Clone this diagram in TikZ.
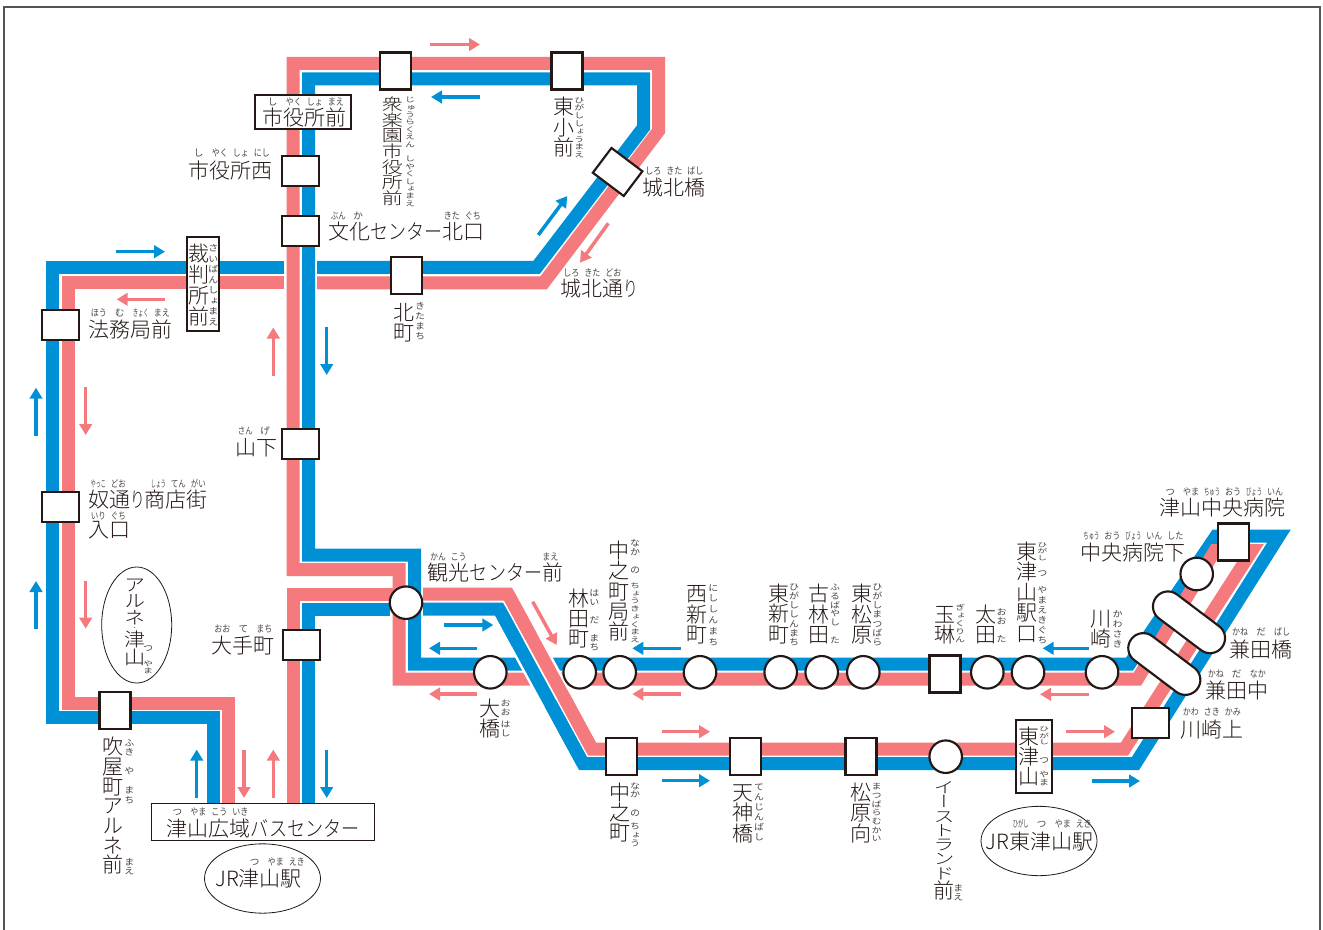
\documentclass[tikz,border=0pt]{standalone}
\usepackage{fontspec}
\usepackage{graphicx}
\usetikzlibrary{arrows.meta,shapes.geometric}
\setmainfont{Noto Sans CJK JP Light}
\newfontfamily\vfont{Noto Sans CJK JP Light}[RawFeature={+vert}]
\newfontfamily\rfont{Noto Sans CJK JP}
\newfontfamily\vrfont{Noto Sans CJK JP}[RawFeature={+vert}]
\let\vcf\vfont
\definecolor{ink}{HTML}{231815}
\definecolor{txt}{HTML}{231815}
\definecolor{rubyc}{HTML}{4A4644}
\definecolor{bl}{HTML}{0090D5}
\definecolor{pk}{HTML}{F47A7E}
\newdimen\px \px=.75pt
\newcounter{lb}
\newcommand\kn[1]{\scalebox{.86}[1]{#1}}
\newcommand\kr[1]{\scalebox{.7}[1]{#1}}
\newcommand\Sq[2]{\sbox0{#2}\scalebox{\fpeval{min(1,(#1*.75pt-3.75pt)/(\the\wd0+.001pt))}}[1]{\usebox0}}
\ExplSyntaxOn
\NewDocumentCommand\Vc{mmmm}{
  \vbox{\offinterlineskip
    \fontsize{\fpeval{#3*0.75}}{\fpeval{#3*0.75}}\vcf\selectfont
    \tl_map_inline:nn{#4}{
      \hbox to #3\px{
        \vrule height \fpeval{.5*#1+.38*#3*#2}\px depth \fpeval{.5*#1-.38*#3*#2}\px width 0pt
        \hss\smash{\scalebox{1}[#2]{##1}}\hss}
    }
  }
}
\NewDocumentCommand\Rh{mm}{
  \hbox{\fontsize{7.2}{7.2}\rfont\selectfont
    \clist_map_inline:nn{#2}{\hbox to #1\px{\hss\Sq{#1}{##1}\hss}}
  }
}
\ExplSyntaxOff
\newcommand\MH[3]{\stepcounter{lb}\node[mh] (m\thelb) at (#1,#2) {#3};}
\newcommand\RH[4]{\stepcounter{lb}\node[rh] (r\thelb) at (#1,#2) {\Rh{#3}{#4}};}
\newcommand\MV[4]{\stepcounter{lb}\node[vt] (m\thelb) at (#1,#2) {\Vc{#3}{1}{21}{#4}};}
\newcommand\RV[5]{\stepcounter{lb}\node[rv] (r\thelb) at (#1,#2) {\let\vcf\vrfont\Vc{#3}{#4}{10}{#5}};}
\tikzset{
  band/.style={line width=9.75pt,line join=miter,miter limit=20},
  bluel/.style={band,draw=bl},
  pinkl/.style={band,draw=pk},
  casing/.style={line width=24.75pt,draw=white},
  arr/.style={line width=2.6pt,-{Triangle[length=8.25pt,width=9.4pt]}},
  ab/.style={arr,draw=bl},
  ap/.style={arr,draw=pk},
  stn/.style={draw=ink,line width=1.6pt,fill=white,inner sep=0pt},
  boxv/.style={stn,rectangle,minimum width=23.25pt,minimum height=27.75pt},
  boxh/.style={stn,rectangle,minimum width=27.75pt,minimum height=22.5pt},
  stc/.style={stn,circle,minimum size=24.4pt},
  caps/.style={stn,rectangle,minimum width=62pt,minimum height=22.5pt,rounded corners=11.2pt,rotate=-37},
  oval/.style={draw=ink,line width=.6pt,fill=white,ellipse,inner sep=0pt},
  mh/.style={anchor=base west,inner sep=0pt,text=txt,font=\fontsize{15.75}{15.75}\selectfont},
  rh/.style={anchor=base west,inner sep=0pt,text=rubyc},
  vt/.style={anchor=north,inner sep=0pt,text=txt},
  rv/.style={anchor=north,inner sep=0pt,text=rubyc},
}
\begin{document}
\begin{tikzpicture}[x=.75pt,y=-.75pt]
\useasboundingbox (0,0) rectangle (1323,930);
\draw[draw=ink!75,line width=.8pt] (4,930) -- (4,7) -- (1320,7) -- (1320,930);

% routes
\draw[bluel] (284,267.5) -- (52.5,267.5) -- (52.5,717.5) -- (213.5,717.5) -- (213.5,804);
\draw[pinkl] (284,283) -- (68,283) -- (68,703) -- (228.5,703) -- (228.5,804);
\draw[bluel] (317,267.5) -- (536.5,267.5) -- (643.5,127.5) -- (643.5,79) -- (308.5,79) -- (308.5,555) -- (414.5,555) -- (414.5,664) -- (1129.5,664) -- (1216,536) -- (1279,536) -- (1135.5,763.5) -- (583,763.5) -- (499,609) -- (423,609);
\draw[bluel] (390,609) -- (308.5,609) -- (308.5,804);
\draw[pinkl] (317,283) -- (543.5,283) -- (658.5,131) -- (658.5,63.5) -- (293,63.5) -- (293,569.5) -- (399,569.5) -- (399,679) -- (1137.5,679) -- (1215,550.5) -- (1252,550.5) -- (1124.5,749) -- (592,749) -- (508,594) -- (423,594);
\draw[pinkl] (399,587.5) -- (399,594) -- (293,594) -- (293,804);
\draw[casing] (524.4,640) -- (557,700);
\draw[bluel] (499,609) -- (583,763.5);
\draw[pinkl] (508,594) -- (592,749);

% arrows
\draw[ap] (430,44.5) -- (480,44.5);
\draw[ab] (479.5,97) -- (431,97);
\draw[ab] (538.3,235) -- (567.3,196);
\draw[ap] (608.3,223.3) -- (580,262.7);
\draw[ab] (116,251.7) -- (165,251.7);
\draw[ap] (165,299.3) -- (116.7,299.3);
\draw[ap] (273.3,376) -- (273.3,327.5);
\draw[ab] (326.7,327) -- (326.7,375);
\draw[ab] (36,435.8) -- (36,387.7);
\draw[ap] (85.7,387) -- (85.7,435);
\draw[ab] (36,628.6) -- (36,581);
\draw[ap] (85.7,581) -- (85.7,628.6);
\draw[ab] (196.7,798.4) -- (196.7,749.6);
\draw[ap] (244,749.6) -- (244,798);
\draw[ap] (273.3,798) -- (273.3,749.6);
\draw[ab] (326.7,749.6) -- (326.7,798);
\draw[ab] (444.3,625) -- (493.3,625);
\draw[ab] (477.3,648.3) -- (429,648.3);
\draw[ap] (477.3,694) -- (429,694);
\draw[ap] (532.7,601.7) -- (556.7,645);
\draw[ab] (681,648.3) -- (632.3,648.3);
\draw[ap] (681,694) -- (632.3,694);
\draw[ap] (661.7,731.7) -- (710,731.7);
\draw[ab] (661.7,780.7) -- (710,780.7);
\draw[ab] (1089,648.3) -- (1042.7,648.3);
\draw[ap] (1089,694.3) -- (1040,694.3);
\draw[ap] (1066,731.7) -- (1115,731.7);
\draw[ab] (1091.7,781) -- (1140,781);

% stations
\node[boxv] (shuraku) at (395.3,71) {};
\node[boxv] (higashisho) at (567,71) {};
\node[boxh] (shiyakunishi) at (300.5,171) {};
\node[boxh] (bunka) at (300.5,231) {};
\node[boxv] (kitamachi) at (406.3,275.5) {};
\node[boxh] (homu) at (60.3,325) {};
\node[stn,rectangle,minimum width=29pt,minimum height=23.25pt,rotate=-37] (johokubashi) at (617.6,172) {};
\node[boxh] (sange) at (300.5,444) {};
\node[boxh] (yakko) at (60.3,506.7) {};
\node[boxh] (ote) at (301.7,645) {};
\node[boxv] (fukiya) at (115,710.5) {};
\node[stc] (kanko) at (406,602.7) {};
\node[stc] (ohashi) at (490.3,672.3) {};
\node[stc] (hayashida) at (579.7,672.3) {};
\node[stc] (nakanokyoku) at (619.7,672.3) {};
\node[stc] (nishishin) at (700,672.3) {};
\node[stc] (higashishin) at (780.7,672.3) {};
\node[stc] (furubayashi) at (821.7,672.3) {};
\node[stc] (higashimatsu) at (863.3,672.3) {};
\node[boxv] (gyokurin) at (945,674) {};
\node[stc] (ota) at (987.3,672.3) {};
\node[stc] (higashitsueki) at (1028,672.3) {};
\node[stc] (kawasaki) at (1102,672.3) {};
\node[stc] (chubyoshita) at (1196.7,574) {};
\node[boxv] (chubyo) at (1233.8,542) {};
\node[caps] (kanedabashi) at (1189,622.3) {};
\node[caps] (kanedanaka) at (1164.3,664) {};
\node[boxh] (kawasakikami) at (1150.7,722.7) {};
\node[boxv] (nakano) at (621.5,756.3) {};
\node[boxv] (tenjin) at (745.3,756.3) {};
\node[boxv] (matsubara) at (861,756.3) {};
\node[stc] (eastland) at (945.7,756.7) {};
\node[stn,rectangle,minimum width=72pt,minimum height=25.5pt] (shiyaku) at (303,112) {};
\node[stn,rectangle,minimum width=24pt,minimum height=70.5pt] (saiban) at (202.7,284) {};
\node[stn,rectangle,minimum width=27pt,minimum height=54.75pt] (higashitsu) at (1033.8,756.5) {};
\node[draw=ink,line width=.75pt,fill=white,rectangle,inner sep=0pt,minimum width=167.25pt,minimum height=27.75pt] (buscenter) at (263.4,822.4) {};
\node[oval,minimum width=52.5pt,minimum height=87pt] (arune) at (136.7,625) {};
\node[oval,minimum width=87pt,minimum height=52pt] (jrtsuyama) at (262.5,878.5) {};
\node[oval,minimum width=87pt,minimum height=52pt] (jrhigashi) at (1039,841) {};

% horizontal labels
\MH{262}{126}{市役所前} \RH{262}{105.5}{21}{し,やく,しょ,まえ}
\MH{188}{178.5}{市役所西} \RH{188}{157}{21}{し,やく,しょ,にし}
\MH{328}{240}{文化\kn{センター}北口} \RH{328}{220}{20}{ぶん,か} \RH{441}{220}{21}{きた,ぐち}
\MH{88}{337.5}{法務局前} \RH{88}{317}{21}{ほう,む,きょく,まえ}
\MH{642.7}{196}{城北橋} \RH{642.7}{175}{21}{しろ,きた,ばし}
\MH{560.7}{296.5}{城北通\kr{り}} \RH{560.7}{276.7}{21}{しろ,きた,どお}
\MH{235}{455}{山下} \RH{235}{434}{20}{さん,げ}
\MH{88}{507.5}{奴通\kr{り}商店街} \RH{88}{487.6}{20}{やっこ,どお,　,しょう,てん,がい}
\MH{88}{537.5}{入口} \RH{88}{519}{20}{いり,ぐち}
\MH{211.7}{653.5}{大手町} \RH{211.7}{632.5}{21}{おお,て,まち}
\MH{166.7}{836}{津山広域\kn{バスセンター}} \RH{166.7}{815.7}{21}{つ,やま,こう,いき}
\MH{215}{886}{JR津山駅} \RH{244}{865}{21}{つ,やま,えき}
\MH{427.7}{580}{観光\kn{センター}前} \RH{427.7}{560.7}{20.5}{かん,こう} \RH{539.5}{560.7}{21}{まえ}
\MH{1159.3}{515.5}{津山中央病院} \RH{1159.3}{495}{21}{つ,やま,ちゅう,おう,びょう,いん}
\MH{1080.7}{560}{中央病院下} \RH{1080.7}{539}{21}{ちゅう,おう,びょう,いん,した}
\MH{1229.3}{657}{兼田橋} \RH{1229.3}{635.7}{21}{かね,だ,ばし}
\MH{1205}{698.5}{兼田中} \RH{1205}{677.3}{21}{かね,だ,なか}
\MH{1180}{737}{川崎上} \RH{1180}{715}{21}{かわ,さき,かみ}
\MH{985.7}{849.5}{JR東津山駅} \RH{1010}{827.7}{21}{ひがし,つ,やま,えき}

% vertical labels
\MV{198.5}{243}{21}{裁判所前} \RV{213.3}{243}{10.5}{.9}{さいばんしょまえ}
\MV{403.7}{302}{20}{北町} \RV{420}{301}{10}{.9}{きたまち}
\stepcounter{lb}\node[vt] (m\thelb) at (392.3,96) {\Vc{15.7}{.78}{21}{衆楽園市役所前}};
\RV{410}{96}{7.4}{.72}{じゅうらくえん　しやくしょまえ}
\MV{564}{96}{20.7}{東小前} \RV{579.3}{96}{7.8}{.75}{ひがししょうまえ}
\MV{113.3}{736.6}{19.7}{吹屋町アルネ前} \RV{129.3}{738}{9.5}{.9}{ふき　や　まち} \RV{129.3}{857}{9}{.9}{まえ}
\MV{619.3}{540}{20.3}{中之町局前} \RV{635}{538}{9}{.9}{なか} \RV{635}{565}{9}{.9}{の} \RV{635}{581.7}{7.7}{.72}{ちょうきょくまえ}
\MV{579}{588}{20}{林田町} \RV{594.3}{588}{9}{.9}{はい　だ　まち}
\MV{696.7}{583.3}{20.5}{西新町} \RV{713.3}{582}{10.8}{.9}{にししんまち}
\MV{779}{582.7}{20.5}{東新町} \RV{794}{582}{9.2}{.9}{ひがししんまち}
\MV{819.3}{583}{20.5}{古林田} \RV{835}{583}{8.7}{.85}{ふるばやし　た}
\MV{861.7}{583}{20.5}{東松原} \RV{877.3}{582}{9.2}{.9}{ひがしまつばら}
\MV{945}{604}{20}{玉琳} \RV{960}{603}{8}{.75}{ぎょくりん}
\MV{986}{604}{20}{太田} \RV{1001.7}{607}{9}{.9}{おお　た}
\MV{1026.7}{541}{20.4}{東津山駅口} \RV{1042.3}{541.5}{6.5}{.62}{ひがし} \RV{1042.3}{568}{9}{.9}{つ} \RV{1042.3}{585}{10}{.9}{やまえきぐち}
\MV{1101}{608}{20}{川崎} \RV{1117.7}{609}{10}{.9}{かわさき}
\MV{490}{697.7}{20.5}{大橋} \RV{505.7}{699}{8.5}{.85}{おお} \RV{505.7}{720}{8.5}{.85}{はし}
\MV{620}{782.3}{20}{中之町} \RV{635}{781.7}{8.5}{.85}{なか} \RV{635}{808}{9}{.9}{の} \RV{635}{822}{8.5}{.85}{ちょう}
\MV{743.3}{781.7}{20.5}{天神橋} \RV{759}{782}{10}{.9}{てんじんばし}
\MV{860.7}{781.7}{20.5}{松原向} \RV{876.7}{782}{8.7}{.82}{まつばらむかい}
\stepcounter{lb}\node[vt] (m\thelb) at (944,780) {\vbox{\offinterlineskip\Vc{14.3}{.75}{21}{イーストランド}\Vc{20}{1}{21}{前}}};
\RV{958.3}{883}{9}{.9}{まえ}
\MV{1029.3}{726.7}{20}{東津山} \RV{1044}{726}{6.5}{.62}{ひがし} \RV{1044}{755}{9}{.9}{つ} \RV{1044}{770}{8}{.8}{やま}
\stepcounter{lb}\node[vt] (m\thelb) at (134.5,576) {\vbox{\offinterlineskip\Vc{16.5}{.85}{21}{アルネ}\hbox to 21\px{\hss\Vc{4}{.5}{8}{・}\hss}\Vc{18.5}{.9}{21}{津山}}};
\RV{148}{643}{9}{.9}{つ} \RV{148}{660}{7}{.7}{やま}
\end{tikzpicture}
\end{document}
